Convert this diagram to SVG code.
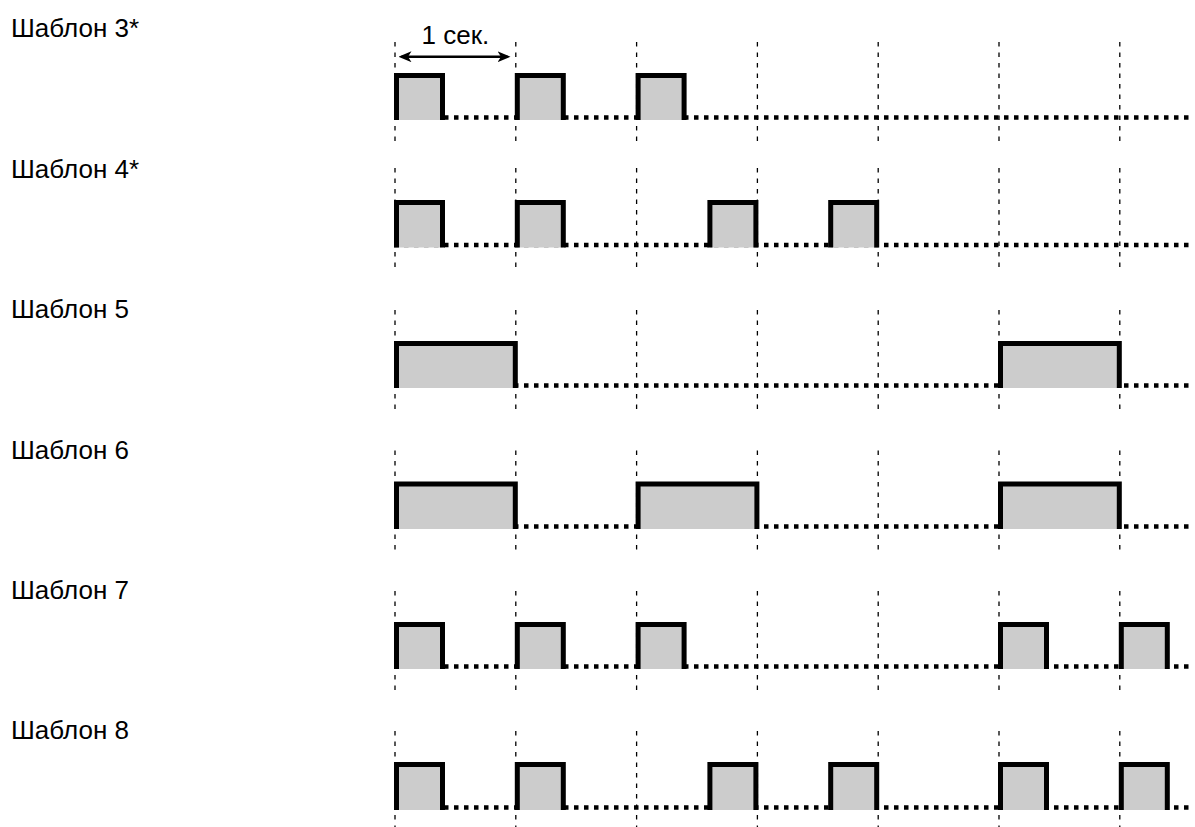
<svg xmlns="http://www.w3.org/2000/svg" width="1195" height="827" viewBox="0 0 1195 827">
<style>
.lbl{font-family:"Liberation Sans",Arial,sans-serif;font-size:26px;fill:#000}
.sec{font-family:"Liberation Sans",Arial,sans-serif;font-size:26px;fill:#000}
.grid{stroke:#000;stroke-width:1.3;stroke-dasharray:4.5 6;fill:none}
.base{stroke:#000;stroke-width:4.5;stroke-dasharray:4.5 5.5;fill:none}
.fill{fill:#cccccc;stroke:none}
.edge{fill:none;stroke:#000;stroke-width:5;stroke-linejoin:miter;stroke-linecap:butt}
.arr{stroke:#000;stroke-width:2.5;fill:none}
</style>
<defs>
<marker id="ah" markerUnits="userSpaceOnUse" markerWidth="13" markerHeight="11" refX="10" refY="5.5" orient="auto-start-reverse" viewBox="0 0 13 11">
<path d="M13,5.5 L0,0 L3.5,5.5 L0,11 Z" fill="#000"/>
</marker>
</defs>
<rect width="1195" height="827" fill="#fff"/>

<g id="grid">
<path class="grid" d="M395 42V142M515.8 42V142M636.6 42V142M757.4 42V142M878.2 42V142M999 42V142M1119.8 42V142"/>
<path class="grid" d="M395 168V269.5M515.8 168V269.5M636.6 168V269.5M757.4 168V269.5M878.2 168V269.5M999 168V269.5M1119.8 168V269.5"/>
<path class="grid" d="M395 310V410M515.8 310V410M636.6 310V410M757.4 310V410M878.2 310V410M999 310V410M1119.8 310V410"/>
<path class="grid" d="M395 450.5V551M515.8 450.5V551M636.6 450.5V551M757.4 450.5V551M878.2 450.5V551M999 450.5V551M1119.8 450.5V551"/>
<path class="grid" d="M395 591V691M515.8 591V691M636.6 591V691M757.4 591V691M878.2 591V691M999 591V691M1119.8 591V691"/>
<path class="grid" d="M395 731V827M515.8 731V827M636.6 731V827M757.4 731V827M878.2 731V827M999 731V827M1119.8 731V827"/>
</g>

<g id="connectors">
<line class="arr" x1="401.5" y1="56.7" x2="507.5" y2="56.7" marker-start="url(#ah)" marker-end="url(#ah)"/>
<text class="sec" x="455.4" y="43.5" text-anchor="middle">1 сек.</text>
</g>

<g id="pattern-3">
<text class="lbl" x="11" y="37">Шаблон 3*</text>
<line class="base" x1="394" y1="117.5" x2="1192" y2="117.5"/>
<rect class="fill" x="396.5" y="75.5" width="46" height="44.5"/>
<rect class="fill" x="517.3" y="75.5" width="46" height="44.5"/>
<rect class="fill" x="638.1" y="75.5" width="46" height="44.5"/>
<path class="edge" d="M396.5 120V75.5H442.5V120M517.3 120V75.5H563.3V120M638.1 120V75.5H684.1V120"/>
</g>

<g id="pattern-4">
<text class="lbl" x="11" y="177.5">Шаблон 4*</text>
<line class="base" x1="394" y1="245" x2="1192" y2="245"/>
<rect class="fill" x="396.5" y="202.5" width="46" height="45"/>
<rect class="fill" x="517.3" y="202.5" width="46" height="45"/>
<rect class="fill" x="709.9" y="202.5" width="46" height="45"/>
<rect class="fill" x="830.7" y="202.5" width="46" height="45"/>
<path class="edge" d="M396.5 247.5V202.5H442.5V247.5M517.3 247.5V202.5H563.3V247.5M709.9 247.5V202.5H755.9V247.5M830.7 247.5V202.5H876.7V247.5"/>
</g>

<g id="pattern-5">
<text class="lbl" x="11" y="318">Шаблон 5</text>
<line class="base" x1="394" y1="385.5" x2="1192" y2="385.5"/>
<rect class="fill" x="396.5" y="343.5" width="118.8" height="44.5"/>
<rect class="fill" x="1000.5" y="343.5" width="118.8" height="44.5"/>
<path class="edge" d="M396.5 388V343.5H515.3V388M1000.5 388V343.5H1119.3V388"/>
</g>

<g id="pattern-6">
<text class="lbl" x="11" y="458.5">Шаблон 6</text>
<line class="base" x1="394" y1="526.5" x2="1192" y2="526.5"/>
<rect class="fill" x="396.5" y="484" width="118.8" height="45"/>
<rect class="fill" x="638.1" y="484" width="118.8" height="45"/>
<rect class="fill" x="1000.5" y="484" width="118.8" height="45"/>
<path class="edge" d="M396.5 529V484H515.3V529M638.1 529V484H756.9V529M1000.5 529V484H1119.3V529"/>
</g>

<g id="pattern-7">
<text class="lbl" x="11" y="598.5">Шаблон 7</text>
<line class="base" x1="394" y1="666.5" x2="1192" y2="666.5"/>
<rect class="fill" x="396.5" y="624.5" width="46" height="44.5"/>
<rect class="fill" x="517.3" y="624.5" width="46" height="44.5"/>
<rect class="fill" x="638.1" y="624.5" width="46" height="44.5"/>
<rect class="fill" x="1000.5" y="624.5" width="46" height="44.5"/>
<rect class="fill" x="1121.3" y="624.5" width="46" height="44.5"/>
<path class="edge" d="M396.5 669V624.5H442.5V669M517.3 669V624.5H563.3V669M638.1 669V624.5H684.1V669M1000.5 669V624.5H1046.5V669M1121.3 669V624.5H1167.3V669"/>
</g>

<g id="pattern-8">
<text class="lbl" x="11" y="738.5">Шаблон 8</text>
<line class="base" x1="394" y1="807.5" x2="1192" y2="807.5"/>
<rect class="fill" x="396.5" y="764.5" width="46" height="45.5"/>
<rect class="fill" x="517.3" y="764.5" width="46" height="45.5"/>
<rect class="fill" x="709.9" y="764.5" width="46" height="45.5"/>
<rect class="fill" x="830.7" y="764.5" width="46" height="45.5"/>
<rect class="fill" x="1000.5" y="764.5" width="46" height="45.5"/>
<rect class="fill" x="1121.3" y="764.5" width="46" height="45.5"/>
<path class="edge" d="M396.5 810V764.5H442.5V810M517.3 810V764.5H563.3V810M709.9 810V764.5H755.9V810M830.7 810V764.5H876.7V810M1000.5 810V764.5H1046.5V810M1121.3 810V764.5H1167.3V810"/>
</g>
</svg>
